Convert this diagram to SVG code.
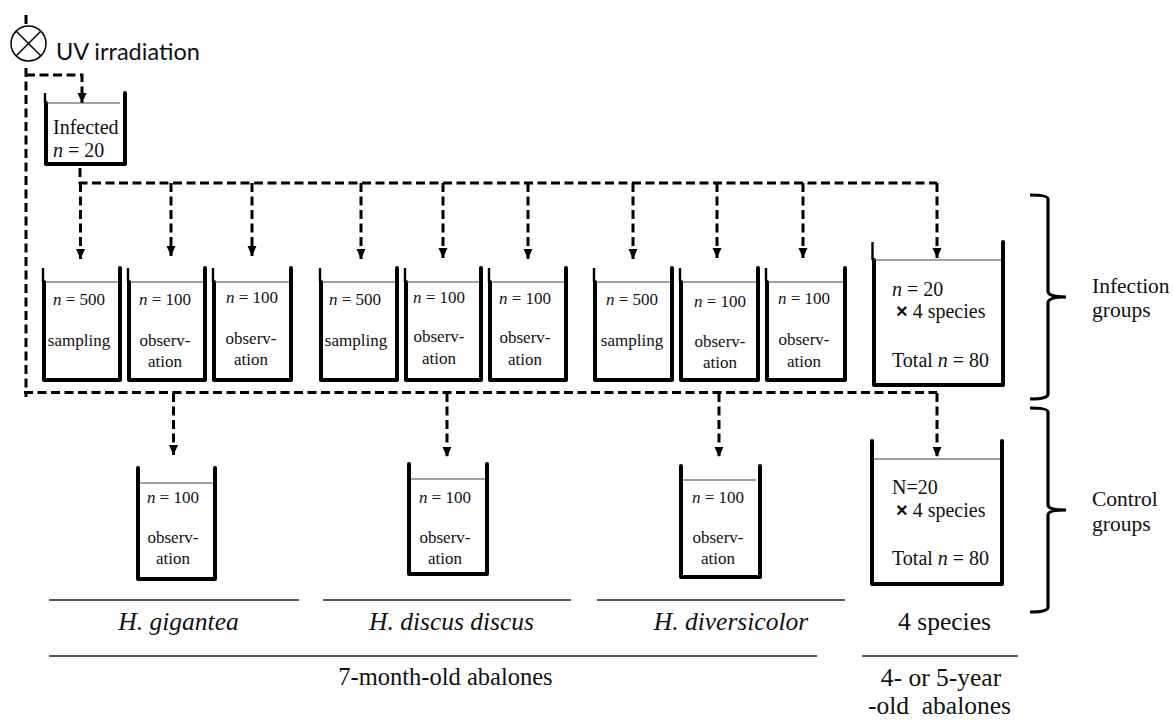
<svg xmlns="http://www.w3.org/2000/svg" width="1173" height="720" viewBox="0 0 1173 720">
<style>
text{font-family:"Liberation Serif","Times New Roman",serif;fill:#111}
.s{font-size:17px;text-anchor:middle}
.m{font-size:20px}
.l{font-size:25.5px;text-anchor:middle}
.lb{font-size:21.5px}
.x{font-family:"Liberation Sans",Arial,sans-serif;font-weight:bold}
.wall{fill:none;stroke:#000;stroke-width:4;stroke-linejoin:round;stroke-linecap:round}
.lip{fill:none;stroke:#000;stroke-width:2.4}
.water{stroke:#444;stroke-width:1.2;fill:none}
.c{fill:none;stroke:#000;stroke-width:3;stroke-dasharray:9 4.5}
.brace{fill:none;stroke:#000;stroke-width:3.2}
.rule{stroke:#222;stroke-width:1.3}
</style>
<defs>
<marker id="a" markerUnits="userSpaceOnUse" markerWidth="11" markerHeight="10" refX="10" refY="4.500" orient="auto"><path d="M0 0L10 4.500L0 9Z" fill="#000"/></marker>
</defs>
<rect width="1173" height="720" fill="#fff"/>
<g id="connectors">
<path class="c" d="M26 15V27M26 68V397"/>
<path class="c" marker-end="url(#a)" d="M26 75H82V103"/>
<path class="c" d="M80 168V183H937"/>
<path class="c" marker-end="url(#a)" d="M80.500 183V259"/>
<path class="c" marker-end="url(#a)" d="M171 183V256"/>
<path class="c" marker-end="url(#a)" d="M252 183V256"/>
<path class="c" marker-end="url(#a)" d="M361 183V259"/>
<path class="c" marker-end="url(#a)" d="M443 183V258"/>
<path class="c" marker-end="url(#a)" d="M528 183V259"/>
<path class="c" marker-end="url(#a)" d="M633 183V259"/>
<path class="c" marker-end="url(#a)" d="M717 183V258"/>
<path class="c" marker-end="url(#a)" d="M803 183V258"/>
<path class="c" marker-end="url(#a)" d="M937 183V258"/>
<path class="c" d="M24 392.500H937"/>
<path class="c" marker-end="url(#a)" d="M173.500 393V455"/>
<path class="c" marker-end="url(#a)" d="M447 393V457"/>
<path class="c" marker-end="url(#a)" d="M719 393V457"/>
<path class="c" marker-end="url(#a)" d="M937 393V457"/>
</g>
<g id="uv"><circle cx="28.500" cy="43.500" r="17.500" fill="#fff" stroke="#000" stroke-width="1.500"/><path d="M16 31L41 56M41 31L16 56" stroke="#000" stroke-width="1.500"/><text x="56" y="60" style="font-family:Lato,'Open Sans',sans-serif;font-size:23.5px">UV irradiation</text></g>
<g id="infected"><path class="wall" d="M46 103V164H125V93"/><path class="lip" d="M45 93V103"/><path class="water" d="M47 103H120"/><text class="m" x="53" y="134">Infected</text><text class="m" x="53" y="157"><tspan font-style="italic">n</tspan> = 20</text></g>
<g id="t1"><path class="wall" d="M44 282V380H120V268"/><path class="lip" d="M43 268V282"/><path class="water" d="M45 282H118"/><text class="s" x="79" y="305"><tspan font-style="italic">n</tspan> = 500</text><text class="s" x="79" y="346">sampling</text></g>
<g id="t2"><path class="wall" d="M129 282V380H205V268"/><path class="lip" d="M128 268V282"/><path class="water" d="M130 282H203"/><text class="s" x="165" y="305"><tspan font-style="italic">n</tspan> = 100</text><text class="s" x="165" y="346">observ-</text><text class="s" x="165" y="367">ation</text></g>
<g id="t3"><path class="wall" d="M214 282V380H291V268"/><path class="lip" d="M213 268V282"/><path class="water" d="M215 282H289"/><text class="s" x="252" y="303"><tspan font-style="italic">n</tspan> = 100</text><text class="s" x="251" y="344">observ-</text><text class="s" x="251" y="365">ation</text></g>
<g id="t4"><path class="wall" d="M321 282V380H397V268"/><path class="lip" d="M320 268V282"/><path class="water" d="M322 282H395"/><text class="s" x="355" y="305"><tspan font-style="italic">n</tspan> = 500</text><text class="s" x="356" y="346">sampling</text></g>
<g id="t5"><path class="wall" d="M406 282V380H481V268"/><path class="lip" d="M405 268V282"/><path class="water" d="M407 282H479"/><text class="s" x="439" y="303"><tspan font-style="italic">n</tspan> = 100</text><text class="s" x="439" y="342">observ-</text><text class="s" x="439" y="364">ation</text></g>
<g id="t6"><path class="wall" d="M490 282V380H566V268"/><path class="lip" d="M489 268V282"/><path class="water" d="M491 282H564"/><text class="s" x="525" y="304"><tspan font-style="italic">n</tspan> = 100</text><text class="s" x="525" y="343">observ-</text><text class="s" x="525" y="365">ation</text></g>
<g id="t7"><path class="wall" d="M595 282V380H672V268"/><path class="lip" d="M594 268V282"/><path class="water" d="M596 282H670"/><text class="s" x="632" y="305"><tspan font-style="italic">n</tspan> = 500</text><text class="s" x="632" y="346">sampling</text></g>
<g id="t8"><path class="wall" d="M681 282V380H758V268"/><path class="lip" d="M680 268V282"/><path class="water" d="M682 282H756"/><text class="s" x="720" y="307"><tspan font-style="italic">n</tspan> = 100</text><text class="s" x="720" y="347">observ-</text><text class="s" x="720" y="368">ation</text></g>
<g id="t9"><path class="wall" d="M767 282V380H845V268"/><path class="lip" d="M766 268V282"/><path class="water" d="M768 282H843"/><text class="s" x="804" y="304"><tspan font-style="italic">n</tspan> = 100</text><text class="s" x="804" y="345">observ-</text><text class="s" x="804" y="367">ation</text></g>
<g id="t10"><path class="wall" d="M874 260V385H1003V242"/><path class="lip" d="M872.500 242V260"/><path class="water" d="M873 260H1002"/><text class="m" x="892" y="296"><tspan font-style="italic">n</tspan> = 20</text><text class="m" x="896" y="318"><tspan class="x">×</tspan> 4 species</text><text class="m" x="892" y="367">Total <tspan font-style="italic">n</tspan> = 80</text></g>
<g id="c1"><path class="wall" d="M138 468V579H215V468"/><path class="water" d="M139 483H213"/><text class="s" x="173" y="503"><tspan font-style="italic">n</tspan> = 100</text><text class="s" x="173" y="543">observ-</text><text class="s" x="173" y="564">ation</text></g>
<g id="c2"><path class="wall" d="M409 464V574H487V464"/><path class="water" d="M410 479H485"/><text class="s" x="445" y="503"><tspan font-style="italic">n</tspan> = 100</text><text class="s" x="445" y="543">observ-</text><text class="s" x="445" y="564">ation</text></g>
<g id="c3"><path class="wall" d="M681 466V577H760V466"/><path class="water" d="M682 480H756"/><text class="s" x="718" y="503"><tspan font-style="italic">n</tspan> = 100</text><text class="s" x="718" y="543">observ-</text><text class="s" x="718" y="564">ation</text></g>
<g id="c4"><path class="wall" d="M872 441V584H1002V441"/><path class="water" d="M873 459H1000"/><text class="m" x="892" y="494">N=20</text><text class="m" x="896" y="517"><tspan class="x">×</tspan> 4 species</text><text class="m" x="892" y="565">Total <tspan font-style="italic">n</tspan> = 80</text></g>
<g id="infection-brace"><path class="brace" d="M1030 195Q1048 195 1048 199V291Q1048 297 1066 297Q1048 297 1048 303V394Q1048 399 1030 399"/><text class="lb" x="1092" y="293">Infection</text><text class="lb" x="1092" y="317">groups</text></g>
<g id="control-brace"><path class="brace" d="M1030 408Q1048 408 1048 412V505Q1048 510 1066 510Q1048 510 1048 515V607Q1048 612 1030 612"/><text class="lb" x="1092" y="506">Control</text><text class="lb" x="1092" y="531">groups</text></g>
<g id="labels">
<path class="rule" d="M49 600H299M323 600H571M597 600H845M49 656H817M862 656H1018"/>
<text class="l" x="178.500" y="630" font-style="italic">H. gigantea</text>
<text class="l" x="451.500" y="630" font-style="italic">H. discus discus</text>
<text class="l" x="731" y="630" font-style="italic">H. diversicolor</text>
<text class="l" x="944.500" y="630">4 species</text>
<text class="l" x="445.500" y="685" style="font-size:24.5px">7-month-old abalones</text>
<text class="l" x="941" y="686">4- or 5-year</text>
<text class="l" x="939.500" y="714" style="white-space:pre">-old  abalones</text>
</g>
</svg>
